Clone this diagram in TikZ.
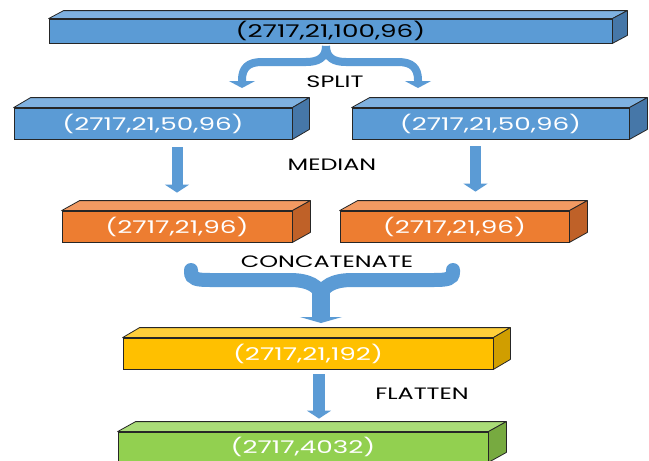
\documentclass[tikz,border=0pt]{standalone}
\usepackage{fontspec}
\setmainfont{Poppins}
\newfontfamily\boxfont{Poppins}[FakeStretch=1.5]
\newfontfamily\lblfont{Poppins}[FakeStretch=1.45]
\usetikzlibrary{arrows.meta}
\definecolor{bluF}{HTML}{5B9BD5}
\definecolor{bluT}{HTML}{7FB1E0}
\definecolor{bluS}{HTML}{4677A8}
\definecolor{orgF}{HTML}{ED7D31}
\definecolor{orgT}{HTML}{F29A62}
\definecolor{orgS}{HTML}{BF6128}
\definecolor{ylwF}{HTML}{FFC000}
\definecolor{ylwT}{HTML}{FFCF3A}
\definecolor{ylwS}{HTML}{D09E00}
\definecolor{grnF}{HTML}{92D050}
\definecolor{grnT}{HTML}{AADC78}
\definecolor{grnS}{HTML}{77AA40}
\definecolor{edge}{HTML}{262626}
\newcommand\cuboid[9]{%
  \node[front, fill=#8F, minimum width={(#4-#2)*1pt}, minimum height={(#5-#3)*1pt}] (#1) at ({(#2+#4)/2},{(#3+#5)/2}) {#9};
  \filldraw[face, fill=#8T] (#1.north west) -- ++(#6,-#7) -- ([shift={(#6,-#7)}]#1.north east) -- (#1.north east) -- cycle;
  \filldraw[face, fill=#8S] (#1.north east) -- ++(#6,-#7) -- ([shift={(#6,-#7)}]#1.south east) -- (#1.south east) -- cycle;
}
\begin{document}
\begin{tikzpicture}[x=1pt,y=-1pt,
  front/.style={draw=edge, line width=0.8pt, inner sep=0pt, text=white, font=\boxfont\fontsize{17.5}{20}\selectfont},
  face/.style={draw=edge, line width=0.8pt, line join=round},
  lbl/.style={text=black, inner sep=0pt, font=\lblfont\fontsize{16.5}{19}\selectfont},
  brace/.style={draw=bluF, line width=8pt},
  cbrace/.style={draw=bluF, line width=14pt, line cap=round},
  blk/.style={draw=bluF, line width=11pt, -{Triangle[width=24pt,length=8pt]}}]
\useasboundingbox (0,0) rectangle (649,461);
\clip (0,0) rectangle (649,461);
\fill[white] (0,0) rectangle (649,461);

\cuboid{A}{49}{19}{612}{43}{15}{8}{blu}{\textcolor{black}{(2717,21,100,96)}}
\cuboid{B1}{14}{108}{292}{139}{17}{10}{blu}{(2717,21,50,96)}
\cuboid{B2}{352}{108}{629}{139}{18}{10}{blu}{(2717,21,50,96)}
\cuboid{C1}{62}{211}{292}{242}{18}{10}{org}{(2717,21,96)}
\cuboid{C2}{340}{211}{569}{242}{18}{10}{org}{(2717,21,96)}
\cuboid{D}{123}{338}{493}{369}{17}{10}{ylw}{(2717,21,192)}
\cuboid{E}{118}{432}{488}{462}{18}{10}{grn}{(2717,4032)}

% split brace
\coordinate (sc) at (326,46);
\coordinate (sl) at (242,88);
\coordinate (sr) at (418,88);
\draw[brace, -{Triangle[width=26pt,length=7pt]}] (sc) .. controls (326,58) and (318,62) .. (306,62) -- (262,62) .. controls (248,62) and (242,68) .. (242,80) -- (sl);
\draw[brace, -{Triangle[width=26pt,length=7pt]}] (sc) .. controls (326,58) and (334,62) .. (346,62) -- (398,62) .. controls (412,62) and (418,68) .. (418,80) -- (sr);
\node[lbl] (split) at (335,82) {SPLIT};

% median arrows
\draw[blk, shorten <=8pt, shorten >=18pt] (B1.south -| C1.north) -- (C1.north);
\coordinate (m2) at ([xshift=21pt]C2.north);
\draw[blk, shorten <=7pt, shorten >=19pt] (B2.south -| m2) -- (m2);
\node[lbl] (median) at (332,165) {MEDIAN};

% concatenate brace
\coordinate (cl) at (191,270);
\coordinate (cr) at (453,270);
\coordinate (cc) at (321,298);
\draw[cbrace] (cl) -- (191,272) .. controls (191,279) and (197,280) .. (210,280) -- (290,280) .. controls (308,280) and (321,286) .. (cc);
\draw[cbrace] (cr) -- (453,272) .. controls (453,279) and (447,280) .. (434,280) -- (352,280) .. controls (334,280) and (321,286) .. (cc);
\coordinate (cs) at (321,290);
\coordinate (ct) at (321,323);
\draw[draw=bluF, line width=18pt, -{Triangle[width=42pt,length=6pt]}] (cs) -- (ct);
\node[lbl] (concat) at (327,262) {CONCATENATE};

% flatten arrow
\coordinate (f) at ([xshift=16pt]E.north);
\draw[blk, line width=12pt, shorten <=5pt, shorten >=13pt] (D.south -| f) -- (f);
\node[lbl] (flatten) at (422,394) {FLATTEN};
\end{tikzpicture}
\end{document}
